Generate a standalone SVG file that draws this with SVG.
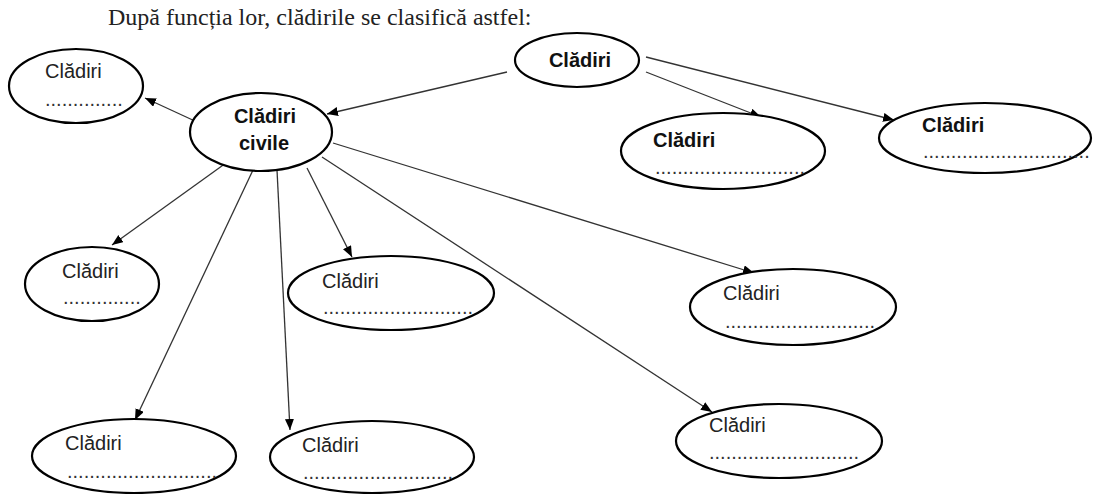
<svg xmlns="http://www.w3.org/2000/svg" width="1094" height="494" viewBox="0 0 1094 494">
<defs>
<marker id="arr" markerUnits="userSpaceOnUse" markerWidth="12" markerHeight="10" refX="11" refY="4.5" orient="auto">
<path d="M0,0 L11,4.5 L0,9 z" fill="#000"/>
</marker>
<style>
.title{font-family:"Liberation Serif","Times New Roman",serif;font-size:24px;fill:#222}
.el{fill:#fff;stroke:#000;stroke-width:2.2}
.t{font-family:"Liberation Sans",Arial,sans-serif;font-size:20px;fill:#222}
.b{font-family:"Liberation Sans",Arial,sans-serif;font-size:20px;font-weight:bold;fill:#111}
.d{font-family:"Liberation Sans",Arial,sans-serif;font-size:20px;fill:#333}
.c line{stroke:#333;stroke-width:1.3;marker-end:url(#arr)}
</style>
</defs>
<rect width="1094" height="494" fill="#fff"/>
<text class="title" x="108" y="25">După funcția lor, clădirile se clasifică astfel:</text>
<g class="c" id="connectors">
<line x1="507" y1="72" x2="327" y2="114"/>
<line x1="646" y1="72" x2="761" y2="117"/>
<line x1="646" y1="57" x2="894" y2="120"/>
<line x1="197" y1="122" x2="145" y2="98"/>
<line x1="226" y1="163" x2="112" y2="245"/>
<line x1="253" y1="170" x2="135" y2="420"/>
<line x1="277" y1="170" x2="290" y2="430"/>
<line x1="307" y1="168" x2="352" y2="257"/>
<line x1="322" y1="157" x2="712" y2="412"/>
<line x1="333" y1="143" x2="754" y2="273"/>
</g>
<g id="n-top">
<ellipse class="el" cx="577" cy="60" rx="62" ry="27"/>
<text class="b" x="580" y="67" text-anchor="middle">Clădiri</text>
</g>
<g id="n-civile">
<ellipse class="el" cx="261" cy="132" rx="71" ry="39"/>
<text class="b" x="265" y="123" text-anchor="middle">Clădiri</text>
<text class="b" x="264" y="150" text-anchor="middle">civile</text>
</g>
<g id="n-topleft">
<ellipse class="el" cx="76" cy="86" rx="67" ry="37"/>
<text class="t" x="45" y="78">Clădiri</text>
<text class="d" x="45" y="106">..............</text>
</g>
<g id="n-mid">
<ellipse class="el" cx="723" cy="151" rx="102" ry="38"/>
<text class="b" x="653" y="147">Clădiri</text>
<text class="d" x="655" y="174">...........................</text>
</g>
<g id="n-right">
<ellipse class="el" cx="985" cy="138" rx="106" ry="35"/>
<text class="b" x="922" y="132">Clădiri</text>
<text class="d" x="923" y="158">..............................</text>
</g>
<g id="n-a">
<ellipse class="el" cx="92" cy="284" rx="67" ry="37"/>
<text class="t" x="62" y="278">Clădiri</text>
<text class="d" x="63" y="304">..............</text>
</g>
<g id="n-d">
<ellipse class="el" cx="391" cy="293" rx="103" ry="37"/>
<text class="t" x="322" y="288">Clădiri</text>
<text class="d" x="323" y="314">...........................</text>
</g>
<g id="n-e">
<ellipse class="el" cx="793" cy="307" rx="103" ry="38"/>
<text class="t" x="723" y="300">Clădiri</text>
<text class="d" x="725" y="328">...........................</text>
</g>
<g id="n-b">
<ellipse class="el" cx="134" cy="456" rx="102" ry="37"/>
<text class="t" x="65" y="450">Clădiri</text>
<text class="d" x="67" y="478">...........................</text>
</g>
<g id="n-c">
<ellipse class="el" cx="372" cy="457" rx="102" ry="36"/>
<text class="t" x="302" y="452">Clădiri</text>
<text class="d" x="303" y="479">...........................</text>
</g>
<g id="n-f">
<ellipse class="el" cx="779" cy="441" rx="103" ry="37"/>
<text class="t" x="709" y="432">Clădiri</text>
<text class="d" x="709" y="459">...........................</text>
</g>
</svg>
